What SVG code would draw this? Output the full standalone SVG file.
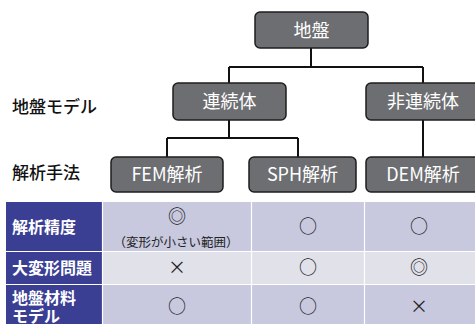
<svg xmlns="http://www.w3.org/2000/svg" width="475" height="324" viewBox="0 0 475 324">
<style>
.node{fill:#6d6e71;stroke:#1e1e1e;stroke-width:1.5}
.nt{font-family:"Noto Sans CJK JP","Noto Sans",sans-serif;font-size:18px;fill:#ffffff;text-anchor:middle}
.lbl{font-family:"Noto Sans CJK JP",sans-serif;font-size:17px;font-weight:500;fill:#111}
.conn{fill:none;stroke:#111;stroke-width:2}
.hd{fill:#3b3f94}
.ht{font-family:"Noto Sans CJK JP",sans-serif;font-size:16px;font-weight:bold;fill:#fff}
.r1{fill:#c8c9de}
.r2{fill:#e0e1e9}
.sym{font-family:"Noto Sans CJK JP",sans-serif;font-size:18px;fill:#222;text-anchor:middle}
.sm{font-family:"Noto Sans CJK JP",sans-serif;font-size:12.5px;fill:#222;text-anchor:middle}
</style>
<rect width="475" height="324" fill="#fff"/>
<g id="connectors">
<path class="conn" d="M311 48V67M229 67H423M229 67V83M423 67V83"/>
<path class="conn" d="M229 120V138M167 138H298M167 138V157M298 138V157"/>
<path class="conn" d="M423 120V157"/>
</g>
<g id="n-jiban"><rect class="node" x="255" y="12" width="113" height="36" rx="5"/><text class="nt" x="311.5" y="37">地盤</text></g>
<g id="n-renzoku"><rect class="node" x="173" y="83" width="113" height="37" rx="5"/><text class="nt" x="229.5" y="108">連続体</text></g>
<g id="n-hirenzoku"><rect class="node" x="366" y="83" width="115" height="37" rx="5"/><text class="nt" x="423" y="108">非連続体</text></g>
<g id="n-fem"><rect class="node" x="111" y="157" width="112" height="35" rx="5"/><text class="nt" x="167" y="181">FEM解析</text></g>
<g id="n-sph"><rect class="node" x="249" y="157" width="107" height="35" rx="5"/><text class="nt" x="302.5" y="181">SPH解析</text></g>
<g id="n-dem"><rect class="node" x="366" y="157" width="115" height="35" rx="5"/><text class="nt" x="423" y="181">DEM解析</text></g>
<g id="labels">
<text class="lbl" x="12" y="113">地盤モデル</text>
<text class="lbl" x="12" y="179">解析手法</text>
</g>
<g id="table">
<rect class="hd" x="6" y="202" width="96" height="122"/>
<rect class="r1" x="103" y="202" width="372" height="49"/>
<rect class="r2" x="103" y="252" width="372" height="32"/>
<rect class="r1" x="103" y="285" width="372" height="39"/>
<path d="M6 251.5H475M6 284.5H475M102.5 202V324M251.5 202V324M364.5 202V324" stroke="#fff" stroke-width="1.2"/>
<text class="ht" x="12" y="233">解析精度</text>
<text class="ht" x="12" y="274">大変形問題</text>
<text class="ht" x="12" y="304">地盤材料</text>
<text class="ht" x="12" y="322">モデル</text>
<text class="sym" x="177" y="223">◎</text>
<text class="sm" x="176" y="247">（変形が小さい範囲）</text>
<text class="sym" x="308" y="233">○</text>
<text class="sym" x="419" y="233">○</text>
<text class="sym" x="177" y="274">×</text>
<text class="sym" x="308" y="274">○</text>
<text class="sym" x="419" y="274">◎</text>
<text class="sym" x="177" y="313">○</text>
<text class="sym" x="308" y="313">○</text>
<text class="sym" x="419" y="313">×</text>
</g>
</svg>
